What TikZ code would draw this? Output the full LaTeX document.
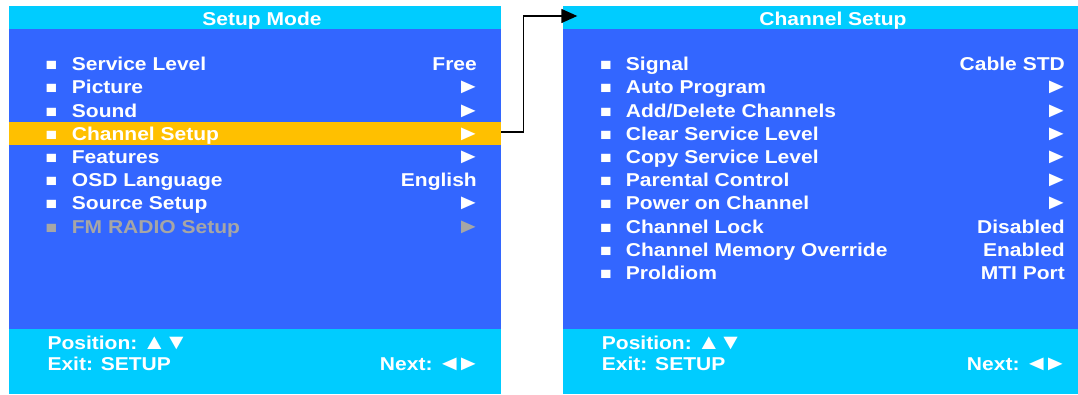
\documentclass[tikz,border=0pt]{standalone}
\usepackage{fontspec}
\setmainfont{Liberation Sans}[FakeStretch=1.13]
\usetikzlibrary{arrows.meta}
\definecolor{osdcyan}{HTML}{00CCFF}
\definecolor{osdblue}{HTML}{3366FF}
\definecolor{osdsel}{HTML}{FFC000}
\definecolor{osdgrey}{HTML}{A6A6A6}
% navigation triangles are set a little larger than the text, with tighter spacing
\newcommand\osdglyph[1]{{\fontsize{21.5}{22}\selectfont #1}}
\newcommand\osdright{\kern-2.3pt\osdglyph{►}\kern-3.6pt}
\newcommand\osdleft{\kern-3pt\osdglyph{◄}\kern-2.7pt}
\newcommand\osdup{\kern-2.8pt\osdglyph{▲}\kern-2.2pt}
\newcommand\osddown{\osdglyph{▼}}
\begin{document}
\begin{tikzpicture}[x=1pt,y=-1pt,
  osd/.style={font=\fontsize{18.6}{20}\selectfont\bfseries, text=white, inner sep=0pt},
  item/.style={osd, anchor=base west},
  val/.style={osd, anchor=base east},
  ttl/.style={osd, anchor=base},
  dot/.style={item, font=\fontsize{17}{17}\selectfont\bfseries},
  bar/.style={inner sep=0pt, outer sep=0pt, anchor=north west},
  link/.style={line width=1.4pt, -{Triangle[length=16pt,width=14pt]}}]
\useasboundingbox (0,0) rectangle (1078,395);

% ---- left menu: Setup Mode ----
\node[bar, fill=osdcyan, minimum width=492pt, minimum height=23pt] (ltitle) at (9,6) {};
\node[bar, fill=osdblue, minimum width=492pt, minimum height=300pt] (lbody) at (9,29) {};
\node[bar, fill=osdcyan, minimum width=492pt, minimum height=65pt] (lfoot) at (9,329) {};
\node[bar, fill=osdsel, minimum width=492pt, minimum height=23.3pt] (hl) at (9,121.7) {};
\node[ttl] (lttext) at (262,25.5) {Setup Mode};

\foreach \lab/\val [count=\i from 0] in
  {Service Level/Free, Picture/\osdright, Sound/\osdright, Channel Setup/\osdright,
   Features/\osdright, OSD Language/English, Source Setup/\osdright} {
  \node[dot]  (ldot\i) at (45.5,70.7+23.2*\i) {■};
  \node[item] (ltxt\i) at (71.7,70.7+23.2*\i) {\lab};
  \node[val]  (lval\i) at (477,70.7+23.2*\i) {\val};
}
\node[dot,  text=osdgrey] (ldot7) at (45.5,233.1) {■};
\node[item, text=osdgrey] (ltxt7) at (71.7,233.1) {FM RADIO Setup};
\node[val,  text=osdgrey] (lval7) at (477,233.1) {\osdright};

\node[item] (lpos) at (47.3,349.3) {Position: \osdup\osddown};
\node[item] (lexit) at (47.3,370.7) {Exit: SETUP};
\node[val]  (lnext) at (477,370.7) {Next: \osdleft\osdright};

% ---- right menu: Channel Setup ----
\node[bar, fill=osdcyan, minimum width=515pt, minimum height=23pt] (rtitle) at (563,6) {};
\node[bar, fill=osdblue, minimum width=515pt, minimum height=300pt] (rbody) at (563,29) {};
\node[bar, fill=osdcyan, minimum width=515pt, minimum height=65pt] (rfoot) at (563,329) {};
\node[ttl] (rttext) at (833,25.5) {Channel Setup};

\foreach \lab/\val [count=\i from 0] in
  {Signal/Cable STD, Auto Program/\osdright, {Add/Delete Channels}/\osdright,
   Clear Service Level/\osdright, Copy Service Level/\osdright,
   Parental Control/\osdright, Power on Channel/\osdright,
   Channel Lock/Disabled, Channel Memory Override/Enabled, Proldiom/MTI Port} {
  \node[dot]  (rdot\i) at (599.9,70.7+23.2*\i) {■};
  \node[item] (rtxt\i) at (625.7,70.7+23.2*\i) {\lab};
  \node[val]  (rval\i) at (1065,70.7+23.2*\i) {\val};
}

\node[item] (rpos) at (601.7,349.3) {Position: \osdup\osddown};
\node[item] (rexit) at (601.7,370.7) {Exit: SETUP};
\node[val]  (rnext) at (1064,370.7) {Next: \osdleft\osdright};

% ---- link from the selected entry to its submenu ----
\coordinate (tip) at ([xshift=14.3pt,yshift=1.5pt]rtitle.west);
\draw[link] ([yshift=1.5pt]hl.east) -| (523.3,16) -- (tip);
\end{tikzpicture}
\end{document}
